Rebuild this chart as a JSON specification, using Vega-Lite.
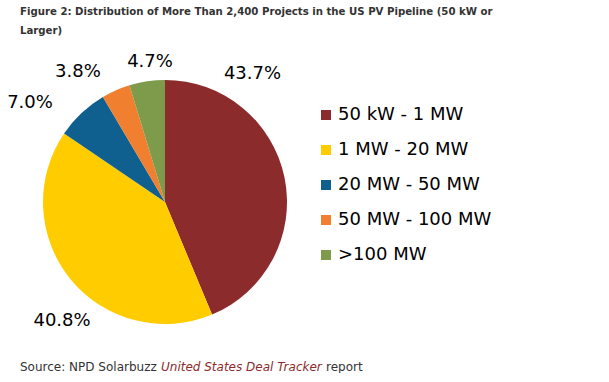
{
  "$schema": "https://vega.github.io/schema/vega-lite/v6.json",
  "background": "white",
  "autosize": {"type": "pad"},
  "padding": {"left": 7, "top": 5, "right": 0, "bottom": 0},
  "title": {
    "text": ["Figure 2: Distribution of More Than 2,400 Projects in the US PV Pipeline (50 kW or", "Larger)"],
    "anchor": "start",
    "frame": "group",
    "font": "DejaVu Sans Condensed",
    "fontWeight": "bold",
    "fontSize": 11.3,
    "lineHeight": 19,
    "color": "#333333",
    "offset": 11
  },
  "config": {"view": {"stroke": null}},
  "spacing": 0,
  "vconcat": [
    {
      "width": 290,
      "height": 310,
      "data": {
        "values": [
          {"size": "50 kW - 1 MW", "share": 0.437, "idx": 1},
          {"size": "1 MW - 20 MW", "share": 0.408, "idx": 2},
          {"size": "20 MW - 50 MW", "share": 0.070, "idx": 3},
          {"size": "50 MW - 100 MW", "share": 0.038, "idx": 4},
          {"size": ">100 MW", "share": 0.047, "idx": 5}
        ]
      },
      "transform": [
        {"stack": "share", "groupby": [], "sort": [{"field": "idx", "order": "ascending"}], "as": ["s0", "s1"]},
        {"calculate": "(datum.s0 + datum.s1) / 2", "as": "mid"}
      ],
      "layer": [
        {
          "mark": {"type": "arc", "outerRadius": 122},
          "encoding": {
            "theta": {"field": "s0", "type": "quantitative", "scale": {"domain": [0, 1]}},
            "theta2": {"field": "s1"},
            "color": {
              "field": "size",
              "type": "nominal",
              "sort": ["50 kW - 1 MW", "1 MW - 20 MW", "20 MW - 50 MW", "50 MW - 100 MW", ">100 MW"],
              "scale": {
                "domain": ["50 kW - 1 MW", "1 MW - 20 MW", "20 MW - 50 MW", "50 MW - 100 MW", ">100 MW"],
                "range": ["#8C2B2B", "#FFCC00", "#0F5F8F", "#F08030", "#7E9A4B"]
              },
              "legend": {
                "title": null,
                "orient": "none",
                "legendX": 297,
                "legendY": 59,
                "symbolType": "square",
                "symbolSize": 100,
                "symbolStrokeWidth": 0,
                "labelFont": "DejaVu Sans",
                "labelFontSize": 18,
                "labelColor": "#000000",
                "labelOffset": 3,
                "rowPadding": 17
              }
            }
          }
        },
        {
          "transform": [{"filter": "datum.idx == 1"}],
          "mark": {"type": "text", "radius": 150, "font": "DejaVu Sans", "fontSize": 18, "color": "#000000", "dx": -59.6, "dy": -99},
          "encoding": {"theta": {"field": "mid", "type": "quantitative", "scale": {"domain": [0, 1]}}, "text": {"field": "share", "type": "quantitative", "format": ".1%"}}
        },
        {
          "transform": [{"filter": "datum.idx == 2"}],
          "mark": {"type": "text", "radius": 150, "font": "DejaVu Sans", "fontSize": 18, "color": "#000000", "dx": 13.2, "dy": 24.6},
          "encoding": {"theta": {"field": "mid", "type": "quantitative", "scale": {"domain": [0, 1]}}, "text": {"field": "share", "type": "quantitative", "format": ".1%"}}
        },
        {
          "transform": [{"filter": "datum.idx == 3"}],
          "mark": {"type": "text", "radius": 150, "font": "DejaVu Sans", "fontSize": 18, "color": "#000000", "dx": -32.3, "dy": 10.4},
          "encoding": {"theta": {"field": "mid", "type": "quantitative", "scale": {"domain": [0, 1]}}, "text": {"field": "share", "type": "quantitative", "format": ".1%"}}
        },
        {
          "transform": [{"filter": "datum.idx == 4"}],
          "mark": {"type": "text", "radius": 150, "font": "DejaVu Sans", "fontSize": 18, "color": "#000000", "dx": -26.6, "dy": 7.3},
          "encoding": {"theta": {"field": "mid", "type": "quantitative", "scale": {"domain": [0, 1]}}, "text": {"field": "share", "type": "quantitative", "format": ".1%"}}
        },
        {
          "transform": [{"filter": "datum.idx == 5"}],
          "mark": {"type": "text", "radius": 150, "font": "DejaVu Sans", "fontSize": 18, "color": "#000000", "dx": 7.1, "dy": 7.9},
          "encoding": {"theta": {"field": "mid", "type": "quantitative", "scale": {"domain": [0, 1]}}, "text": {"field": "share", "type": "quantitative", "format": ".1%"}}
        }
      ]
    },
    {
      "spacing": 4,
      "hconcat": [
        {
          "width": 1,
          "height": 1,
          "data": {"values": []},
          "mark": {"type": "text"},
          "encoding": {},
          "title": {"text": "Source: NPD Solarbuzz", "orient": "bottom", "anchor": "start", "font": "DejaVu Sans", "fontSize": 12, "fontWeight": "normal", "color": "#333333", "offset": 4}
        },
        {
          "width": 1,
          "height": 1,
          "data": {"values": []},
          "mark": {"type": "text"},
          "encoding": {},
          "title": {"text": "United States Deal Tracker", "orient": "bottom", "anchor": "start", "font": "DejaVu Sans", "fontSize": 12, "fontWeight": "normal", "fontStyle": "italic", "color": "#8B2B2B", "offset": 4}
        },
        {
          "width": 1,
          "height": 1,
          "data": {"values": []},
          "mark": {"type": "text"},
          "encoding": {},
          "title": {"text": "report", "orient": "bottom", "anchor": "start", "font": "DejaVu Sans", "fontSize": 12, "fontWeight": "normal", "color": "#333333", "offset": 4}
        }
      ]
    }
  ]
}
